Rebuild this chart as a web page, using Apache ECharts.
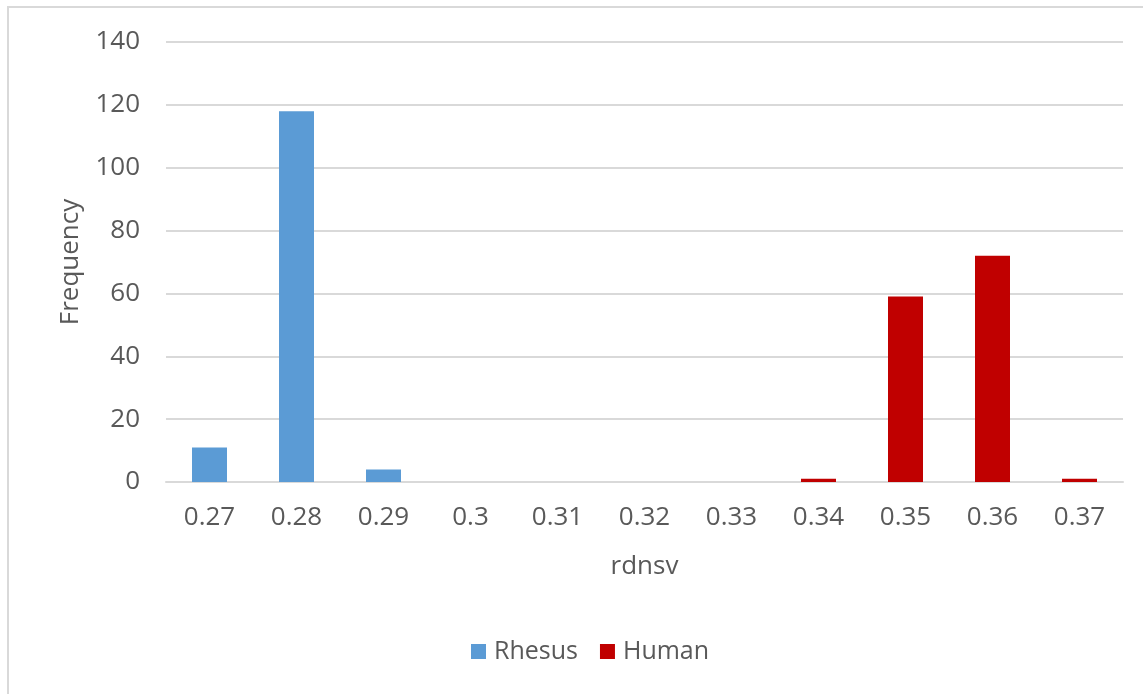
<!DOCTYPE html>
<html>
<head>
<meta charset="utf-8">
<title>rdnsv frequency</title>
<script src="https://cdn.jsdelivr.net/npm/echarts@6/dist/echarts.min.js"></script>
<style>
  html, body { margin: 0; padding: 0; background: #ffffff; }
  #chart { position: absolute; left: 0; top: 0; width: 1143px; height: 694px; }
  #frame {
    position: absolute; left: 7px; top: 6px; right: -10px; bottom: -10px;
    border-left: 2px solid #d9d9d9; border-top: 2px solid #d9d9d9;
    pointer-events: none;
  }
</style>
</head>
<body>
<div id="chart"></div>
<div id="frame"></div>
<script>
// Histogram bins of rdnsv
const categories = ['0.27', '0.28', '0.29', '0.3', '0.31', '0.32', '0.33', '0.34', '0.35', '0.36', '0.37'];
// Counts per bin
const rhesus = [11, 118, 4, 0, 0, 0, 0, 0, 0, 0, 0];
const human  = [0, 0, 0, 0, 0, 0, 0, 1, 59, 72, 1];
const seriesNames = ['Rhesus', 'Human'];
const xTitle = 'rdnsv';
const yTitle = 'Frequency';

const textColor = '#595959';
const font = '"Open Sans", "Liberation Sans", sans-serif';

const chart = echarts.init(document.getElementById('chart'), null, { renderer: 'canvas' });
chart.setOption({
  animation: false,
  backgroundColor: '#ffffff',
  grid: { left: 166, right: 20, top: 42, bottom: 212, containLabel: false },
  legend: {
    data: seriesNames,
    bottom: 25,
    left: 466,
    itemWidth: 15,
    itemHeight: 15,
    itemGap: 22,
    icon: 'rect',
    textStyle: { color: textColor, fontFamily: font, fontSize: 25, padding: [0, 0, 0, 3] }
  },
  xAxis: {
    type: 'category',
    data: categories,
    name: xTitle,
    nameLocation: 'middle',
    nameGap: 72,
    nameTextStyle: { color: textColor, fontFamily: font, fontSize: 26 },
    axisLine: { lineStyle: { color: '#d9d9d9', width: 2 } },
    axisTick: { show: false },
    axisLabel: { color: textColor, fontFamily: font, fontSize: 26, margin: 23 }
  },
  yAxis: {
    type: 'value',
    min: 0,
    max: 140,
    interval: 20,
    name: yTitle,
    nameLocation: 'middle',
    nameGap: 82,
    nameTextStyle: { color: textColor, fontFamily: font, fontSize: 26 },
    axisLine: { show: false },
    axisTick: { show: false },
    axisLabel: { color: textColor, fontFamily: font, fontSize: 26, margin: 26 },
    splitLine: { lineStyle: { color: '#d9d9d9', width: 2 } }
  },
  series: [
    {
      name: seriesNames[0],
      type: 'bar',
      data: rhesus,
      barWidth: 35,
      barGap: '-100%',
      itemStyle: { color: '#5b9bd5' }
    },
    {
      name: seriesNames[1],
      type: 'bar',
      data: human,
      barWidth: 35,
      barGap: '-100%',
      itemStyle: { color: '#c00000' }
    }
  ]
});
</script>
</body>
</html>
